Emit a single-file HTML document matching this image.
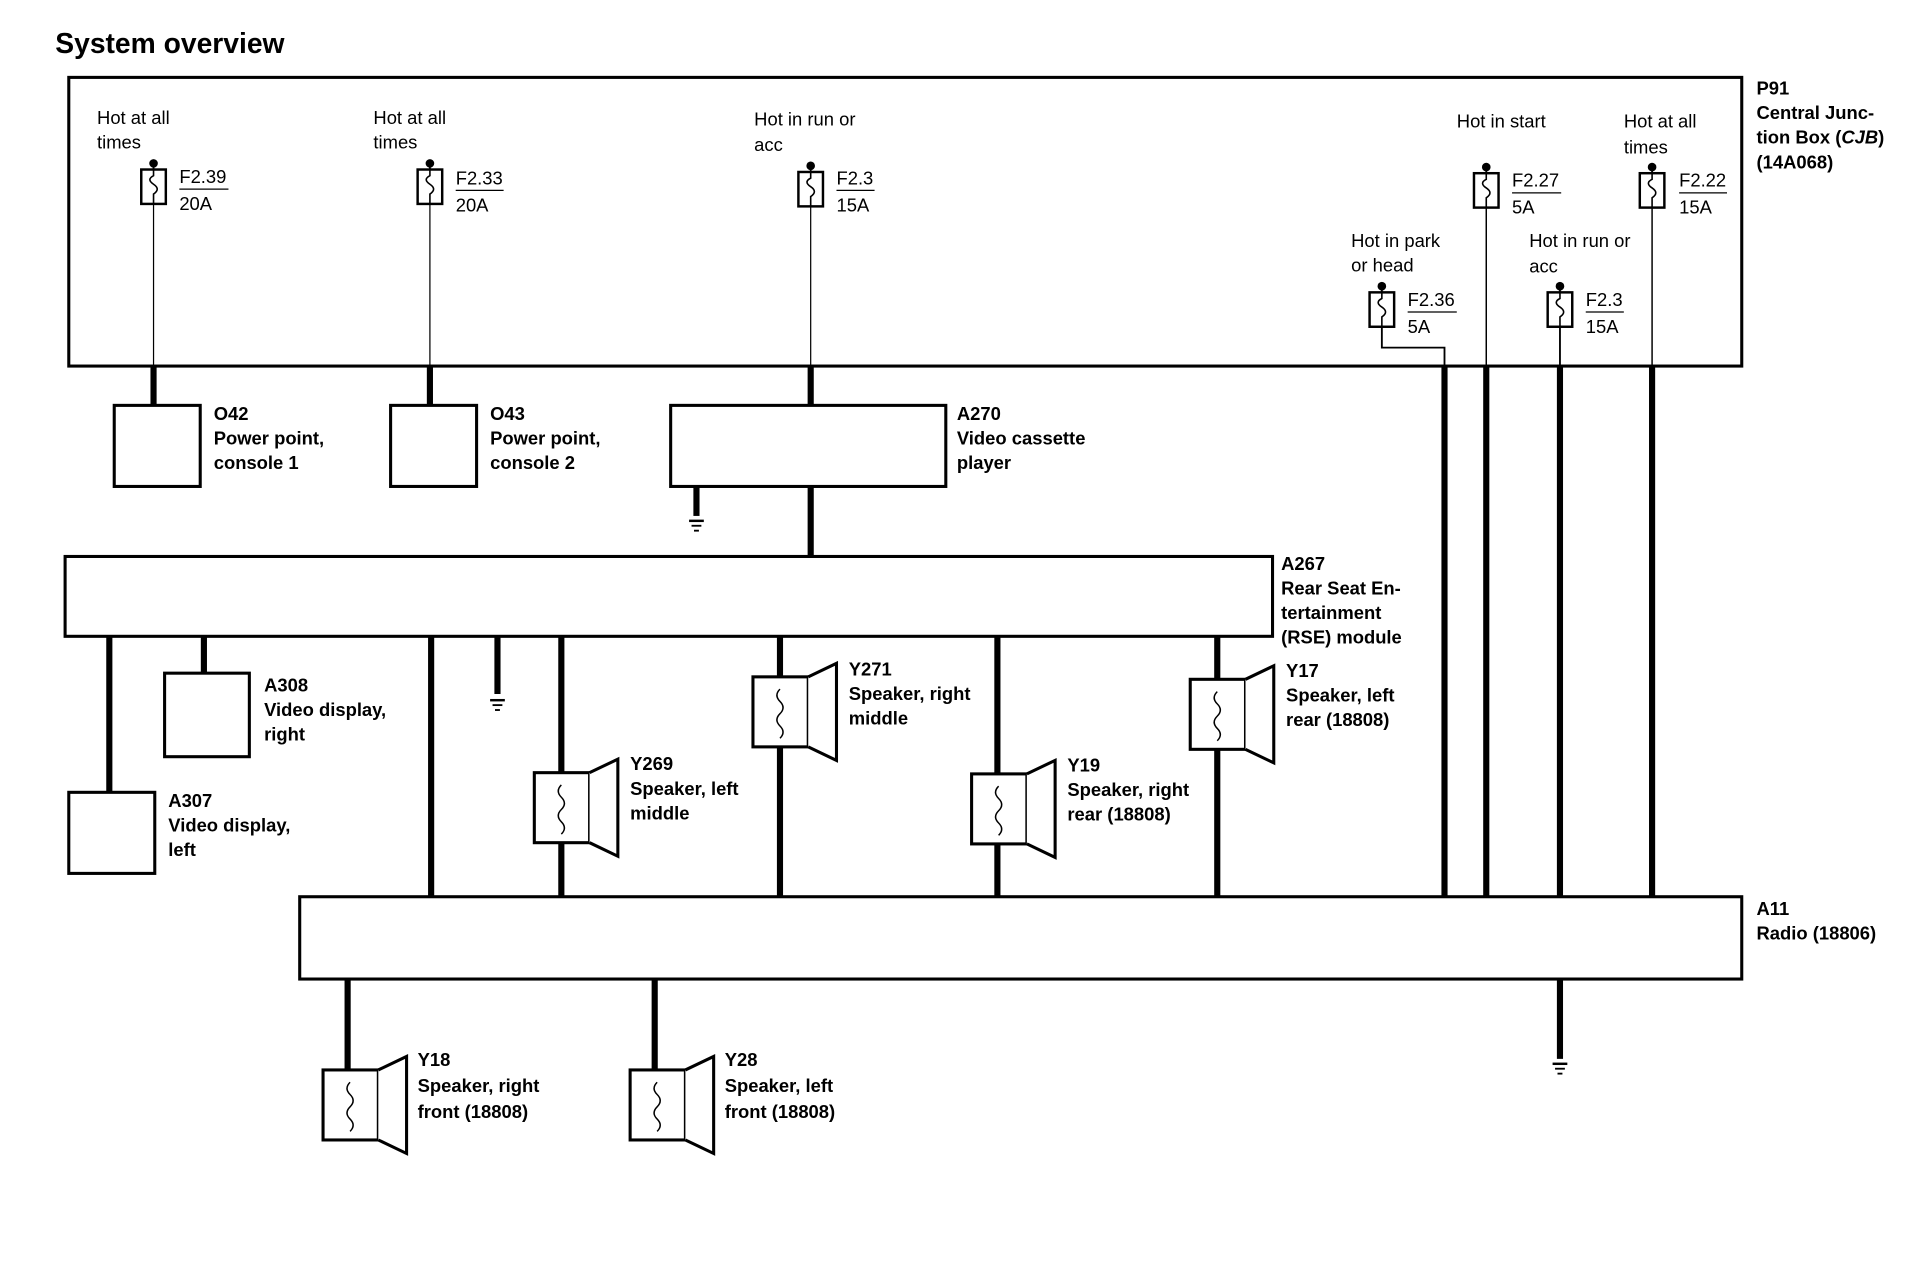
<!DOCTYPE html>
<html><head><meta charset="utf-8"><style>
html,body{margin:0;padding:0;background:#fff;}
svg{display:block;}
text{font-family:"Liberation Sans",Arial,sans-serif;font-size:15px;fill:#000;}
.b{font-weight:bold;}
</style></head><body>
<svg width="1926" height="1280" viewBox="0 0 1568 1042" preserveAspectRatio="none" xmlns="http://www.w3.org/2000/svg">
<defs>
<g id="fuse">
<circle cx="0" cy="-2" r="3.5" fill="#000"/>
<line x1="0" y1="-2" x2="0" y2="3" stroke="#000" stroke-width="1.5"/>
<rect x="-10" y="3" width="20" height="28" fill="#fff" stroke="#000" stroke-width="2"/>
<path d="M0 3 L0 8 Q-6 11 0 15 Q6 19 0 23 L0 31" fill="none" stroke="#000" stroke-width="1.3"/>
</g>
<g id="spk">
<rect x="-22" y="0" width="45" height="57" fill="#fff" stroke="#000" stroke-width="2.5"/>
<path d="M23 0 L46 -11 L46 68 L23 57" fill="#fff" stroke="#000" stroke-width="2.5"/>
<path d="M0 10 Q-5 15 0 20 Q5 25 0 30 Q-5 35 0 40 Q5 45 0 50" fill="none" stroke="#000" stroke-width="1.2"/>
</g>
<g id="gnd">
<line x1="-6" y1="0" x2="6" y2="0" stroke="#000" stroke-width="2"/>
<line x1="-4" y1="4" x2="4" y2="4" stroke="#000" stroke-width="1.5"/>
<line x1="-2" y1="8" x2="2" y2="8" stroke="#000" stroke-width="1.5"/>
</g>
</defs>
<text x="45" y="43" class="b" style="font-size:23px">System overview</text>

<rect x="56" y="63" width="1362" height="235" fill="none" stroke="#000" stroke-width="2.5"/>
<text x="1430" y="77" class="b">P91</text>
<text x="1430" y="97" class="b">Central Junc-</text>
<text x="1430" y="117" class="b">tion Box (<tspan font-style="italic">CJB</tspan>)</text>
<text x="1430" y="137" class="b">(14A068)</text>

<g fill="none" stroke="#000">
<line x1="125" y1="166" x2="125" y2="298" stroke-width="1"/>
<line x1="350" y1="166" x2="350" y2="298" stroke-width="1"/>
<line x1="660" y1="168" x2="660" y2="298" stroke-width="1"/>
<line x1="1210" y1="169" x2="1210" y2="298" stroke-width="1.2"/>
<line x1="1345" y1="169" x2="1345" y2="298" stroke-width="1.2"/>
<polyline points="1125,266 1125,283 1176,283 1176,298" stroke-width="1.5"/>
<line x1="1270" y1="266" x2="1270" y2="298" stroke-width="1.5"/>
<g stroke-width="5">
<line x1="125" y1="298" x2="125" y2="330"/>
<line x1="350" y1="298" x2="350" y2="330"/>
<line x1="660" y1="298" x2="660" y2="330"/>
<line x1="660" y1="396" x2="660" y2="453"/>
<line x1="567" y1="396" x2="567" y2="420"/>
<line x1="1176" y1="298" x2="1176" y2="730"/>
<line x1="1210" y1="298" x2="1210" y2="730"/>
<line x1="1270" y1="298" x2="1270" y2="730"/>
<line x1="1345" y1="298" x2="1345" y2="730"/>
<line x1="89" y1="518" x2="89" y2="645"/>
<line x1="166" y1="518" x2="166" y2="548"/>
<line x1="351" y1="518" x2="351" y2="730"/>
<line x1="405" y1="518" x2="405" y2="565"/>
<line x1="457" y1="518" x2="457" y2="730"/>
<line x1="635" y1="518" x2="635" y2="730"/>
<line x1="812" y1="518" x2="812" y2="730"/>
<line x1="991" y1="518" x2="991" y2="730"/>
<line x1="283" y1="797" x2="283" y2="870"/>
<line x1="533" y1="797" x2="533" y2="870"/>
<line x1="1270" y1="797" x2="1270" y2="862"/>
</g>
<g stroke-width="2.5" fill="#fff">
<rect x="93" y="330" width="70" height="66"/>
<rect x="318" y="330" width="70" height="66"/>
<rect x="546" y="330" width="224" height="66"/>
<rect x="53" y="453" width="983" height="65"/>
<rect x="134" y="548" width="69" height="68"/>
<rect x="56" y="645" width="70" height="66"/>
<rect x="244" y="730" width="1174" height="67"/>
</g>
</g>

<use href="#fuse" x="125" y="135"/>
<use href="#fuse" x="350" y="135"/>
<use href="#fuse" x="660" y="137"/>
<use href="#fuse" x="1210" y="138"/>
<use href="#fuse" x="1345" y="138"/>
<use href="#fuse" x="1125" y="235"/>
<use href="#fuse" x="1270" y="235"/>

<use href="#gnd" x="567" y="424"/>
<use href="#gnd" x="405" y="570"/>
<use href="#gnd" x="1270" y="866"/>

<use href="#spk" x="457" y="629"/>
<use href="#spk" x="635" y="551"/>
<use href="#spk" x="813" y="630"/>
<use href="#spk" x="991" y="553"/>
<use href="#spk" x="285" y="871"/>
<use href="#spk" x="535" y="871"/>

<g>
<text x="79" y="101">Hot at all</text><text x="79" y="121">times</text>
<text x="146" y="149">F2.39</text><line x1="146" y1="154" x2="186" y2="154" stroke="#000"/><text x="146" y="171">20A</text>
<text x="304" y="101">Hot at all</text><text x="304" y="121">times</text>
<text x="371" y="150">F2.33</text><line x1="371" y1="155" x2="410" y2="155" stroke="#000"/><text x="371" y="172">20A</text>
<text x="614" y="102">Hot in run or</text><text x="614" y="123">acc</text>
<text x="681" y="150">F2.3</text><line x1="681" y1="155" x2="712" y2="155" stroke="#000"/><text x="681" y="172">15A</text>
<text x="1186" y="104">Hot in start</text>
<text x="1231" y="152">F2.27</text><line x1="1231" y1="157" x2="1271" y2="157" stroke="#000"/><text x="1231" y="174">5A</text>
<text x="1322" y="104">Hot at all</text><text x="1322" y="125">times</text>
<text x="1367" y="152">F2.22</text><line x1="1367" y1="157" x2="1406" y2="157" stroke="#000"/><text x="1367" y="174">15A</text>
<text x="1100" y="201">Hot in park</text><text x="1100" y="221">or head</text>
<text x="1146" y="249">F2.36</text><line x1="1146" y1="254" x2="1186" y2="254" stroke="#000"/><text x="1146" y="271">5A</text>
<text x="1245" y="201">Hot in run or</text><text x="1245" y="222">acc</text>
<text x="1291" y="249">F2.3</text><line x1="1291" y1="254" x2="1322" y2="254" stroke="#000"/><text x="1291" y="271">15A</text>
</g>

<g>
<text x="174" y="342" class="b">O42</text><text x="174" y="362" class="b">Power point,</text><text x="174" y="382" class="b">console 1</text>
<text x="399" y="342" class="b">O43</text><text x="399" y="362" class="b">Power point,</text><text x="399" y="382" class="b">console 2</text>
<text x="779" y="342" class="b">A270</text><text x="779" y="362" class="b">Video cassette</text><text x="779" y="382" class="b">player</text>
<text x="1043" y="464" class="b">A267</text><text x="1043" y="484" class="b">Rear Seat En-</text><text x="1043" y="504" class="b">tertainment</text><text x="1043" y="524" class="b">(RSE) module</text>
<text x="215" y="563" class="b">A308</text><text x="215" y="583" class="b">Video display,</text><text x="215" y="603" class="b">right</text>
<text x="137" y="657" class="b">A307</text><text x="137" y="677" class="b">Video display,</text><text x="137" y="697" class="b">left</text>
<text x="513" y="627" class="b">Y269</text><text x="513" y="647" class="b">Speaker, left</text><text x="513" y="667" class="b">middle</text>
<text x="691" y="550" class="b">Y271</text><text x="691" y="570" class="b">Speaker, right</text><text x="691" y="590" class="b">middle</text>
<text x="869" y="628" class="b">Y19</text><text x="869" y="648" class="b">Speaker, right</text><text x="869" y="668" class="b">rear (18808)</text>
<text x="1047" y="551" class="b">Y17</text><text x="1047" y="571" class="b">Speaker, left</text><text x="1047" y="591" class="b">rear (18808)</text>
<text x="1430" y="745" class="b">A11</text><text x="1430" y="765" class="b">Radio (18806)</text>
<text x="340" y="868" class="b">Y18</text><text x="340" y="889" class="b">Speaker, right</text><text x="340" y="910" class="b">front (18808)</text>
<text x="590" y="868" class="b">Y28</text><text x="590" y="889" class="b">Speaker, left</text><text x="590" y="910" class="b">front (18808)</text>
</g>
</svg>
</body></html>
